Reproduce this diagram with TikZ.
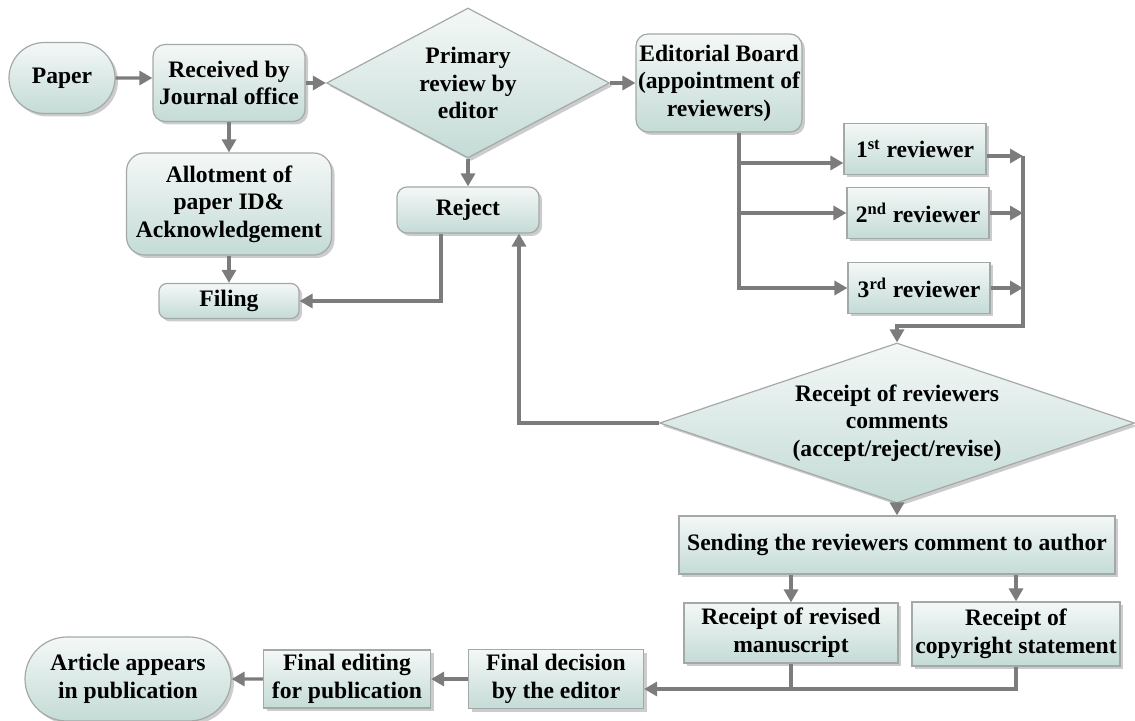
\documentclass[tikz,border=0pt]{standalone}
\usepackage{fontspec}
\setmainfont{Liberation Serif}
\usetikzlibrary{arrows.meta,shapes.geometric,shapes.misc,shadows}
\definecolor{boxtop}{HTML}{F4F8F7}
\definecolor{boxbot}{HTML}{C4DBD6}
\definecolor{framegray}{HTML}{A3A9A8}
\definecolor{linkgray}{HTML}{7C7C7C}

\begin{document}
\begin{tikzpicture}[->,>={Triangle[length=6.5pt,width=7pt]},
        x=0.5pt,y=0.5pt,line width=1.6pt,draw=linkgray,
        base/.style={draw=framegray,line width=0.6pt,top color=boxtop,bottom color=boxbot,
          drop shadow={shadow xshift=1.5pt,shadow yshift=-1.5pt,opacity=0.4},
          align=center,inner sep=1pt,font=\bfseries\fontsize{11.8}{13.8}\selectfont},
        box/.style={base,rounded corners=6pt},
        flat/.style={base},
        pill/.style={base,rounded rectangle},
        decide/.style={base,diamond,inner sep=0pt}]

  \useasboundingbox (0,0) rectangle (1135,-721);

  \node[pill,minimum width=55pt,minimum height=35.5pt] (paper) at (62,-78) {Paper};
  \node[box,minimum width=76pt,minimum height=38.5pt] (received) at (229,-83) {Received by\\Journal office};
  \node[decide,aspect=1.9,minimum width=141.5pt,minimum height=75pt] (primary) at (468,-83) {Primary\\review by\\editor};
  \node[box,minimum width=76.5pt,minimum height=49pt] (board) at (719,-83) {Editorial Board\\(appointment of\\reviewers)};
  \node[box,minimum width=102.5pt,minimum height=51pt,rounded corners=9pt] (allot) at (229,-204) {Allotment of\\paper ID\&\\Acknowledgement};
  \node[box,minimum width=70pt,minimum height=17.5pt,rounded corners=4pt] (filing) at (229,-301) {Filing};
  \node[box,minimum width=71pt,minimum height=23pt,rounded corners=5pt] (reject) at (468,-210) {Reject};

  \node[flat,minimum width=71pt,minimum height=25.5pt] (first) at (915,-149) {1\textsuperscript{st} reviewer};
  \node[flat,minimum width=71pt,minimum height=25.5pt] (second) at (918,-213) {2\textsuperscript{nd} reviewer};
  \node[flat,minimum width=71pt,minimum height=25.5pt] (third) at (919,-288) {3\textsuperscript{rd} reviewer};

  \node[decide,aspect=3,minimum width=237.5pt,minimum height=80pt] (receipt) at (897,-423) {Receipt of reviewers\\comments\\(accept/reject/revise)};
  \node[flat,minimum width=218pt,minimum height=29pt] (sending) at (897,-545) {Sending the reviewers comment to author};
  \node[flat,minimum width=107pt,minimum height=30pt] (revised) at (791,-633) {Receipt of revised\\manuscript};
  \node[flat,minimum width=104pt,minimum height=32pt] (copyright) at (1016,-634) {Receipt of\\copyright statement};
  \node[flat,minimum width=87.5pt,minimum height=29.5pt] (decision) at (556,-679) {Final decision\\by the editor};
  \node[flat,minimum width=83.5pt,minimum height=29pt] (editing) at (347,-679) {Final editing\\for publication};
  \node[pill,minimum width=105pt,minimum height=42pt] (article) at (128,-679) {Article appears\\in publication};

  \path (paper) edge (paper -| received.west)
        (received) edge (primary)
        (primary) edge (board)
        (received) edge (allot)
        (allot) edge (filing)
        (primary) edge (reject)
        (receipt) edge (sending)
        (decision) edge (editing)
        (editing) edge (article);

  % board to the three reviewers
  \coordinate (trunk) at ([xshift=10pt]board.south);
  \draw (trunk) |- (third.west);
  \draw ([yshift=-7pt]first.west -| trunk) -- ([yshift=-7pt]first.west);
  \draw (second.west -| trunk) -- (second.west);

  % reviewers back to the receipt
  \coordinate (top) at (1023,-156);
  \coordinate (bend) at (1023,-326);
  \draw ([yshift=-3.5pt]first.east) -- ([yshift=-3.5pt]first.east -| top);
  \draw (second.east) -- (second.east -| top);
  \draw (third.east) -- (third.east -| top);
  \draw (top) -- (bend) -| (receipt.north);

  % rejections
  \draw ([xshift=-13.5pt]reject.south) |- (filing.east);
  \draw (receipt.west) -| ([xshift=25.5pt]reject.south);

  \draw (sending.south -| revised.north) -- (revised.north);
  \draw (sending.south -| copyright.north) -- (copyright.north);

  \coordinate (merge) at (1016,-689);
  \draw[-] (copyright.south) -- (merge) -- (merge -| revised.south);
  \draw (revised.south) |- ([yshift=-5pt]decision.east);

\end{tikzpicture}
\end{document}
